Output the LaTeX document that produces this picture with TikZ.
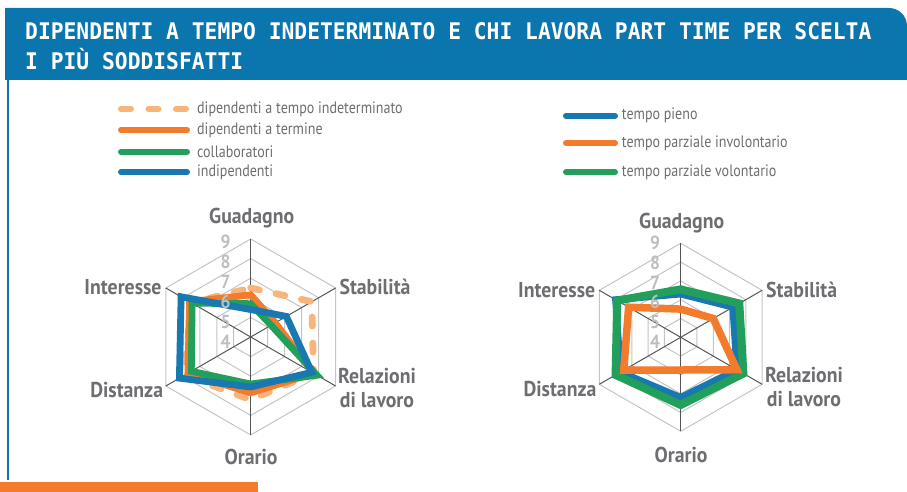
\documentclass[tikz,border=0pt]{standalone}
\usepackage{fontspec}
\setmainfont[FakeStretch=0.85]{PT Sans}
\newfontfamily\labfont[FakeStretch=0.92]{PT Sans}
\newfontfamily\titlefont[FakeStretch=0.93]{DejaVu Sans Mono}
\usetikzlibrary{positioning}

\definecolor{hdrblue}{HTML}{0B75AD}
\definecolor{serblue}{HTML}{1A78B0}
\definecolor{serorange}{HTML}{F37B2B}
\definecolor{serlight}{HTML}{F9B47A}
\definecolor{sergreen}{HTML}{22A05B}
\definecolor{txtgray}{HTML}{6D6E71}
\definecolor{tickgray}{HTML}{BCBEC0}
\definecolor{ringgray}{HTML}{C4C4C4}
\definecolor{spokegray}{HTML}{555555}

\begin{document}
\begin{tikzpicture}[x=1pt, y=1pt,
   every node/.style = {inner sep=0pt},
   lab/.style = {font=\labfont\fontsize{21.5}{24}\selectfont\bfseries, text=txtgray, align=center},
   tick/.style = {font=\labfont\fontsize{19}{19}\selectfont\bfseries, text=tickgray},
   legtext/.style = {font=\fontsize{16.5}{16.5}\selectfont, text=txtgray, anchor=west},
   ring/.style = {draw=ringgray, line width=1pt},
   spoke/.style = {draw=spokegray, line width=1pt},
   serie/.style = {line width=6.8pt},
   dashserie/.style = {serie, serlight, line cap=round, dash pattern=on 9pt off 17pt},
   legline/.style = {line width=6pt, line cap=round}]
   \useasboundingbox (0,0) rectangle (907,492);

   % header
   \fill[hdrblue] (5,412) -- (5,484) -- (889,484) arc[start angle=90, end angle=0, radius=18] -- (907,412) -- cycle;
   \draw[hdrblue, line width=2pt] (8.3,412) -- (8.3,12);
   \fill[serorange] (0,0) rectangle (258,10.3);
   \node[anchor=base west, text=white, font=\titlefont\bfseries\fontsize{22.9}{24}\selectfont] (title1) at (25,452)
      {DIPENDENTI A TEMPO INDETERMINATO E CHI LAVORA PART TIME PER SCELTA};
   \node[anchor=base west, text=white, font=\titlefont\bfseries\fontsize{22.9}{24}\selectfont] (title2) at (25,422)
      {I PIÙ SODDISFATTI};

   % legend left
   \node[legtext] (legA) at (197,383) {dipendenti a tempo indeterminato};
   \node[legtext] (legB) at (197,362) {dipendenti a termine};
   \node[legtext] (legC) at (197,340.3) {collaboratori};
   \node[legtext] (legD) at (197,320) {indipendenti};
   \coordinate (legAs) at (121,383);
   \coordinate (legBs) at (121,362);
   \coordinate (legCs) at (121,340.3);
   \coordinate (legDs) at (121,320);
   \draw[legline, serlight, dash pattern=on 10pt off 17.5pt] (legAs) -- ([xshift=-10pt]legA.west);
   \draw[legline, serorange] (legBs) -- ([xshift=-10pt]legB.west);
   \draw[legline, sergreen] (legCs) -- ([xshift=-10pt]legC.west);
   \draw[legline, serblue] (legDs) -- ([xshift=-10pt]legD.west);

   % legend right
   \node[legtext] (legE) at (621.7,376.3) {tempo pieno};
   \node[legtext] (legF) at (621.7,348.7) {tempo parziale involontario};
   \node[legtext] (legG) at (621.7,319.7) {tempo parziale volontario};
   \coordinate (legEs) at (566,376.3);
   \coordinate (legFs) at (566,348.7);
   \coordinate (legGs) at (566,319.7);
   \draw[legline, serblue] (legEs) -- ([xshift=-6.7pt]legE.west);
   \draw[legline, serorange] (legFs) -- ([xshift=-6.7pt]legF.west);
   \draw[legline, sergreen] (legGs) -- ([xshift=-6.7pt]legG.west);

   % radar left
   \begin{scope}[shift={(250.7,155)}]
      \foreach \k in {1,...,5}
         \draw[ring] (90:\k*19.6) \foreach \a in {30,-30,-90,-150,150} { -- (\a:\k*19.6) } -- cycle;
      \foreach \a in {90,30,-30,-90,-150,150}
         \draw[spoke] (0,0) -- (\a:98);
      \foreach \v [count=\i] in {6.5,7.6,7.7,7.2,7.9,7.5}
         \coordinate (pA\i) at ({150-60*\i}:{(\v-4)*19.6});
      \foreach \v [count=\i] in {6.15,5.45,7.7,6.85,7.7,7.6}
         \coordinate (pB\i) at ({150-60*\i}:{(\v-4)*19.6});
      \foreach \v [count=\i] in {5.7,5.2,7.9,6.4,7.5,7.45}
         \coordinate (pC\i) at ({150-60*\i}:{(\v-4)*19.6});
      \foreach \v [count=\i] in {5.4,6.1,7.6,6.55,8.2,8.1}
         \coordinate (pD\i) at ({150-60*\i}:{(\v-4)*19.6});
      \draw[dashserie] (pA1) -- (pA2) -- (pA3) -- (pA4) -- (pA5) -- (pA6) -- cycle;
      \draw[serie, serorange] (pB1) -- (pB2) -- (pB3) -- (pB4) -- (pB5) -- (pB6) -- cycle;
      \draw[serie, sergreen] (pC1) -- (pC2) -- (pC3) -- (pC4) -- (pC5) -- (pC6) -- cycle;
      \draw[serie, serblue] (pD1) -- (pD2) -- (pD3) -- (pD4) -- (pD5) -- (pD6) -- cycle;
      \foreach \k in {4,...,9}
         \node[tick] (tA\k) at (-25,{-5+(\k-4)*20}) {\k};
   \end{scope}
   \node[lab] (guadA) at (251.7,274) {Guadagno};
   \node[lab] (stabA) at (375,205.3) {Stabilità};
   \node[lab] (relA) at (377,103.7) {Relazioni\\di lavoro};
   \node[lab] (orarA) at (251,35.3) {Orario};
   \node[lab] (distA) at (126.7,102) {Distanza};
   \node[lab] (intA) at (123,204.7) {Interesse};

   % radar right
   \begin{scope}[shift={(680.7,154.7)}]
      \foreach \k in {1,...,5}
         \draw[ring] (90:\k*18.8) \foreach \a in {30,-30,-90,-150,150} { -- (\a:\k*18.8) } -- cycle;
      \foreach \a in {90,30,-30,-90,-150,150}
         \draw[spoke] (0,0) -- (\a:94);
      \foreach \v [count=\i] in {6.3,7.2,7.45,7.2,7.7,8.0}
         \coordinate (qA\i) at ({150-60*\i}:{(\v-4)*18.8});
      \foreach \v [count=\i] in {6.55,7.6,7.85,7.6,8.0,7.9}
         \coordinate (qB\i) at ({150-60*\i}:{(\v-4)*18.8});
      \foreach \v [count=\i] in {5.5,6.0,7.45,5.74,7.5,7.2}
         \coordinate (qC\i) at ({150-60*\i}:{(\v-4)*18.8});
      \draw[serie, serblue] (qA1) -- (qA2) -- (qA3) -- (qA4) -- (qA5) -- (qA6) -- cycle;
      \draw[serie, sergreen, line width=8pt] (qB1) -- (qB2) -- (qB3) -- (qB4) -- (qB5) -- (qB6) -- cycle;
      \draw[serie, serorange, line width=7.5pt] (qC1) -- (qC2) -- (qC3) -- (qC4) -- (qC5) -- (qC6) -- cycle;
      \foreach \k in {4,...,9}
         \node[tick] (tB\k) at (-25.7,{-4.4+(\k-4)*19.7}) {\k};
   \end{scope}
   \node[lab] (guadB) at (681.7,269) {Guadagno};
   \node[lab] (stabB) at (801.7,202) {Stabilità};
   \node[lab] (relB) at (804,104.5) {Relazioni\\di lavoro};
   \node[lab] (orarB) at (681,37) {Orario};
   \node[lab] (distB) at (560,102.7) {Distanza};
   \node[lab] (intB) at (556.7,202) {Interesse};
\end{tikzpicture}
\end{document}
